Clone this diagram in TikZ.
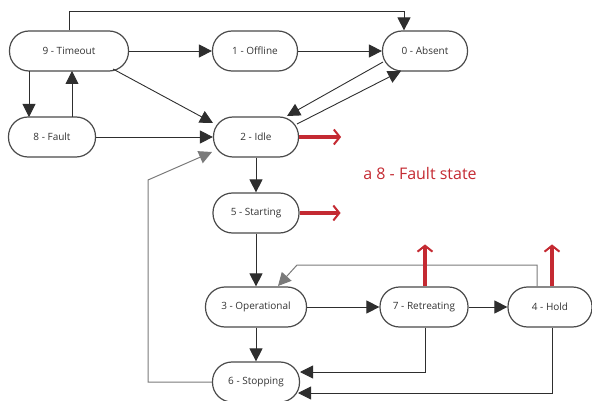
\documentclass[tikz,border=0pt]{standalone}
\usepackage{fontspec}
\setmainfont{Open Sans}
\usetikzlibrary{arrows.meta}
\definecolor{edgegray}{HTML}{2E2E2E}
\definecolor{lightedge}{HTML}{7A7A7A}
\definecolor{nodegray}{HTML}{4A4A4A}
\definecolor{faultred}{HTML}{C42A32}
\tikzset{
  state/.style={draw=nodegray, line width=1.2pt, rounded corners=19.5pt, minimum height=40pt,
    inner sep=0pt, font=\fontsize{10}{12}\selectfont, text=black!80},
  conn/.style={draw=edgegray, line width=0.9pt, -{Triangle[length=13pt,width=13pt]}},
  lconn/.style={draw=lightedge, line width=1pt, -{Triangle[length=13pt,width=13pt]}},
  redarrow/.style={draw=faultred, line width=3.5pt, -{Straight Barb[length=6pt,width=15pt,line width=2pt]}},
}
\begin{document}
\begin{tikzpicture}[x=1pt,y=-1pt]
\path[use as bounding box] (0,0) rectangle (592,401);
% nodes
\node[state, minimum width=119pt] (timeout) at (69,51) {9 - Timeout};
\node[state, minimum width=85pt] (offline) at (255,51) {1 - Offline};
\node[state, minimum width=85pt] (absent) at (425,51) {0 - Absent};
\node[state, minimum width=87pt] (fault) at (52,137) {8 - Fault};
\node[state, minimum width=85pt] (idle) at (256,137) {2 - Idle};
\node[state, minimum width=86pt] (starting) at (256,213) {5 - Starting};
\node[state, minimum width=101pt] (oper) at (256,307) {3 - Operational};
\node[state, minimum width=87pt] (stopping) at (256,382) {6 - Stopping};
\node[state, minimum width=88pt] (retreat) at (424,307) {7 - Retreating};
\node[state, minimum width=84pt] (hold) at (550,307) {4 - Hold};

% coordinates for connector bends
\coordinate (tTop) at (69,11);
\coordinate (aTop) at (404,11);
\coordinate (hBend) at (537,265);
\coordinate (oBend) at (297,265);
\coordinate (sBendA) at (148,382);
\coordinate (sBendB) at (148,180);
\coordinate (rDown) at (425,372);
\coordinate (hDown) at (552,393);

% connectors
\draw[conn] (timeout.north) -- (tTop) -| (absent.north -| aTop);
\draw[conn] (timeout.east) -- (offline.west);
\draw[conn] (offline.east) -- (absent.west);
\draw[conn] (113,69) -- (213,123);
\draw[conn] (29,71) -- (29,117);
\draw[conn] (72,117) -- (72,71);
\draw[conn] (fault.east) -- (idle.west);
\draw[conn] (383,62) -- (287,116);
\draw[conn] (297,124) -- (401,71);
\draw[conn] (idle.south) -- (starting.north);
\draw[conn] (starting.south) -- (oper.north);
\draw[conn] (oper.south) -- (stopping.north);
\draw[conn] (oper.east) -- (retreat.west);
\draw[conn] (retreat.east) -- (hold.west);
\draw[lconn] (hold.north -| hBend) -- (hBend) -- (oBend) -- (278,286);
\draw[conn] (retreat.south -| rDown) -- (rDown) -- (300,372);
\draw[conn] (hold.south -| hDown) -- (hDown) -- (298,393);
\draw[lconn] (stopping.west) -- (sBendA) -- (sBendB) -- (212,152);

% red arrows
\draw[redarrow] (idle.east) -- ++(42,0);
\draw[redarrow] (starting.east) -- ++(41,0);
\draw[redarrow] (retreat.north -| rDown) -- ++(0,-42);
\draw[redarrow] (hold.north -| hDown) -- ++(0,-42);

\node[text=faultred, font=\fontsize{16}{19}\selectfont, anchor=center] (caption) at (420,173) {a 8 - Fault state};
\end{tikzpicture}
\end{document}
